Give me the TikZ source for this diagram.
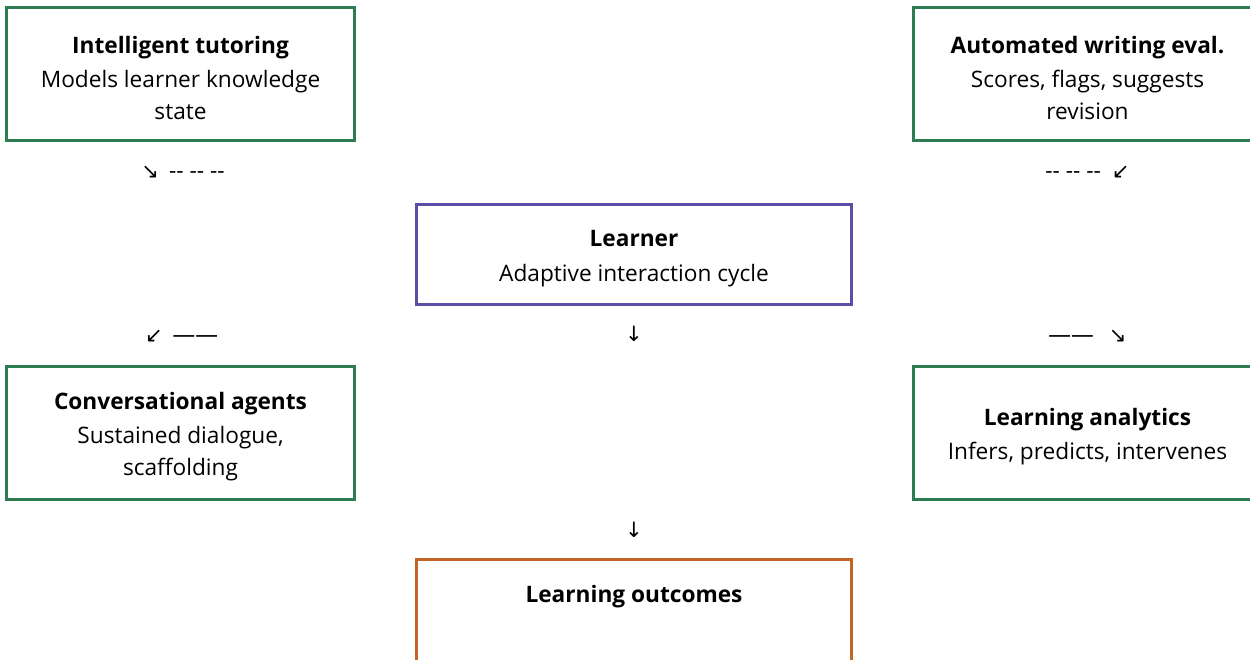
\documentclass[tikz,border=0pt]{standalone}
\usepackage{fontspec}
\setmainfont{Open Sans}
\newfontfamily\arrowfont{DejaVu Sans}
\usepackage{xcolor}
\usepackage{tikz}
\usetikzlibrary{positioning}
\definecolor{toolframe}{RGB}{46,125,82}
\definecolor{learnerframe}{RGB}{90,78,168}
\definecolor{outcomeframe}{RGB}{194,100,36}
\newcommand{\boxtitle}[1]{\rule{0pt}{14pt}\textbf{#1}\\[1.4pt]}

\begin{document}
\begin{tikzpicture}[
        node distance=1.2cm and 1.2cm,
        font=\fontsize{12.9}{18.1}\selectfont,
        tool/.style={draw=toolframe, rectangle, line width=1.7pt, minimum width=6.96cm, minimum height=2.66cm, align=center, inner sep=0pt},
        hub/.style={rectangle, line width=1.7pt, minimum width=8.7cm, minimum height=2.0cm, align=center, inner sep=0pt},
        flow/.style={inner sep=0pt, font=\fontsize{12.9}{14}\selectfont}
    ]
    \clip (0,0) rectangle (25,-13.18);
    \useasboundingbox (0,0) rectangle (25,-13.18);

    % Nodes
    \node[hub, draw=learnerframe] (learner) at (12.68,-5.09) {\boxtitle{Learner}Adaptive interaction cycle};
    \node[tool] (tutoring) [above left=1.22cm and 1.18cm of learner] {\boxtitle{Intelligent tutoring}Models learner knowledge\\state};
    \node[tool] (writing) [above right=1.22cm and 1.18cm of learner] {\boxtitle{Automated writing eval.}Scores, flags, suggests\\revision};
    \node[tool] (agents) [below left=1.18cm and 1.18cm of learner] {\boxtitle{Conversational agents}Sustained dialogue,\\scaffolding};
    \node[tool] (analytics) [below right=1.18cm and 1.18cm of learner] {\boxtitle{Learning analytics}Infers, predicts, intervenes};
    \node[hub, draw=outcomeframe, minimum height=2.1cm] (outcomes) [below=5.04cm of learner] {\boxtitle{Learning outcomes}\strut};

    % Arrows
    \node[flow] (tutoringflow) [below=0.47cm of tutoring, xshift=0.05cm] {{\arrowfont\large↘}\hspace{0.2cm}{-}{-} {-}{-} {-}{-}};
    \node[flow] (writingflow) [below=0.47cm of writing] {{-}{-} {-}{-} {-}{-}\hspace{0.22cm}{\arrowfont\large↙}};
    \node[flow] (agentsflow) [above=0.44cm of agents, xshift=0.02cm] {{\arrowfont\large↙}\hspace{0.2cm}——};
    \node[flow] (analyticsflow) [above=0.44cm of analytics] {——\hspace{0.3cm}{\arrowfont\large↘}};
    \node[flow] (learnerflow) [below=0.4cm of learner] {{\arrowfont\large↓}};
    \node[flow] (outcomesflow) [above=0.4cm of outcomes] {{\arrowfont\large↓}};

    \end{tikzpicture}
\end{document}
